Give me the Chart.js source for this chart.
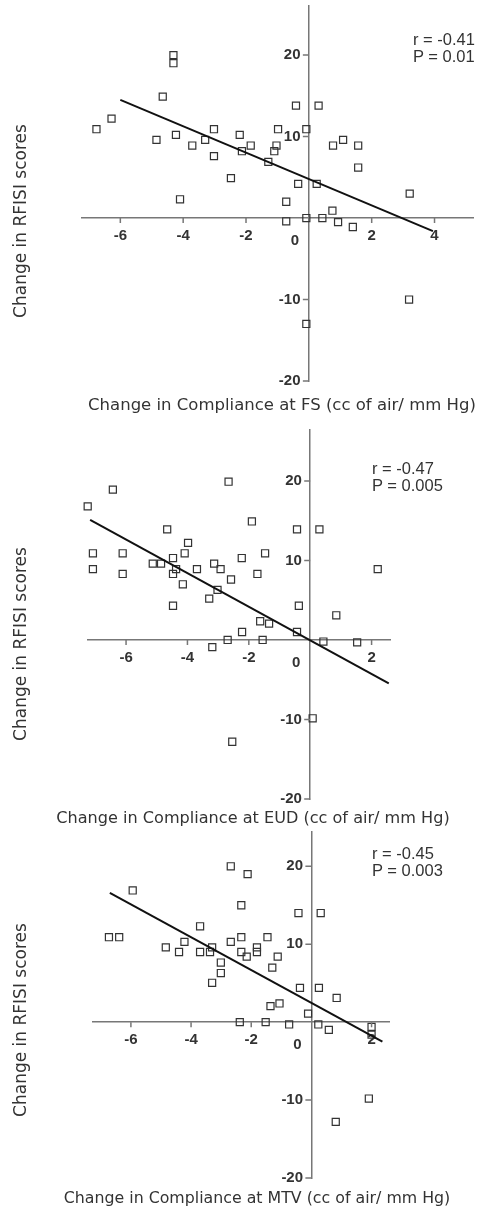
<!DOCTYPE html>
<html>
<head>
<meta charset="utf-8">
<script src="https://cdn.jsdelivr.net/npm/chart.js@4"></script>
<style>
body { margin: 0; background: #fff; }
#page { position: relative; width: 480px; height: 1211px; overflow: hidden; font-family: "DejaVu Sans", sans-serif; color: #333; }
.panel { position: absolute; left: 0; }
.xtitle { position: absolute; white-space: nowrap; font-size: 16.5px; line-height: 18px; transform: translateX(-50%); }
.ytitle { position: absolute; white-space: nowrap; font-size: 17px; line-height: 18px; transform: translate(-50%, -50%) rotate(-90deg); }
.stat { position: absolute; font-family: "Liberation Sans", Arial, sans-serif; font-size: 16.5px; line-height: 17px; white-space: nowrap; }
</style>
</head>
<body>
<div id="page">
  <canvas id="fs" class="panel" width="480" height="400" style="top:0px"></canvas>
  <canvas id="eud" class="panel" width="480" height="410" style="top:400px"></canvas>
  <canvas id="mtv" class="panel" width="480" height="380" style="top:810px"></canvas>

  <div class="ytitle" style="left:20px;top:221px">Change in RFISI scores</div>
  <div class="ytitle" style="left:20px;top:644px">Change in RFISI scores</div>
  <div class="ytitle" style="left:20px;top:1020px">Change in RFISI scores</div>

  <div class="xtitle" style="left:282px;top:396px">Change in Compliance at FS (cc of air/ mm Hg)</div>
  <div class="xtitle" style="left:253px;top:809px;font-size:16.1px">Change in Compliance at EUD (cc of air/ mm Hg)</div>
  <div class="xtitle" style="left:257px;top:1189px;font-size:15.8px">Change in Compliance at MTV (cc of air/ mm Hg)</div>

  <div class="stat" style="left:413px;top:31px">r = -0.41<br>P = 0.01</div>
  <div class="stat" style="left:372px;top:460px">r = -0.47<br>P = 0.005</div>
  <div class="stat" style="left:372px;top:845px">r = -0.45<br>P = 0.003</div>
</div>
<script>
// --- data ---
// FS
var fsX = [-6.76, -6.28, -4.31, -4.31, -4.65, -4.85, -4.23, -3.71, -3.30, -3.02, -3.02, -2.48, -2.20, -2.13, -1.85, -1.29, -1.10, -1.03, -0.98, -0.41, -0.08, 0.31, -0.34, 0.25, 0.77, 1.09, 1.57, 1.57, 3.21, -4.10, -0.72, -0.72, -0.08, 0.43, 0.75, 0.93, 1.40, 3.19, -0.08];
var fsY = [10.9, 12.2, 20.0, 19.0, 14.9, 9.6, 10.2, 8.9, 9.6, 10.9, 7.6, 4.9, 10.2, 8.2, 8.9, 6.9, 8.2, 8.9, 10.9, 13.8, 10.9, 13.8, 4.2, 4.2, 8.9, 9.6, 8.9, 6.2, 3.0, 2.3, 2.0, -0.4, 0, 0, 0.9, -0.5, -1.1, -10.0, -13.0];
var fsLineX = [-6.0, 3.95];
var fsLineY = [14.5, -1.6];

// EUD
var eudX = [-7.25, -6.43, -2.66, -1.90, -4.66, -0.43, 0.30, -3.98, -4.09, -7.08, -6.11, -1.47, -4.47, -2.23, -5.13, -4.86, -3.13, -7.08, -4.37, -3.69, -2.92, 2.20, -6.11, -4.47, -1.72, -2.58, -4.15, -3.02, -3.29, -4.47, -0.37, 0.85, -1.63, -1.34, -2.22, -0.43, -2.69, -1.55, -3.19, 0.43, 1.53, 0.08, -2.54];
var eudY = [16.8, 18.9, 19.9, 14.9, 13.9, 13.9, 13.9, 12.2, 10.9, 10.9, 10.9, 10.9, 10.3, 10.3, 9.6, 9.6, 9.6, 8.9, 8.9, 8.9, 8.9, 8.9, 8.3, 8.3, 8.3, 7.6, 7.0, 6.3, 5.2, 4.3, 4.3, 3.1, 2.35, 2.05, 1.0, 1.0, 0, 0, -0.9, -0.2, -0.3, -9.85, -12.8];
var eudLineX = [-7.17, 2.56];
var eudLineY = [15.1, -5.45];

// MTV
var mtvX = [-5.94, -6.73, -6.39, -2.68, -2.12, -2.33, -0.43, 0.31, -3.70, -2.33, -1.46, -4.84, -4.22, -4.40, -3.70, -3.37, -3.30, -2.68, -2.33, -2.15, -1.81, -1.81, -1.12, -3.01, -1.30, -3.01, -3.30, -0.38, 0.25, 0.84, -1.36, -1.06, -0.11, -2.38, -1.52, -0.74, 0.23, 0.58, 2.0, 2.0, 1.91, 0.81];
var mtvY = [16.9, 10.9, 10.9, 20.0, 19.0, 15.0, 14.0, 14.0, 12.3, 10.9, 10.9, 9.6, 10.3, 9.0, 9.0, 9.0, 9.6, 10.3, 9.0, 8.4, 9.6, 9.0, 8.4, 7.65, 7.0, 6.3, 5.05, 4.4, 4.4, 3.1, 2.05, 2.4, 1.1, 0, 0, -0.3, -0.3, -1.0, -0.6, -1.6, -9.8, -12.8];
var mtvLineX = [-6.7, 2.36];
var mtvLineY = [16.6, -2.5];

// tick labels
var xTicksFS = [-6, -4, -2, 2, 4];
var xTicksOther = [-6, -4, -2, 2];
var yTicks = [-20, -10, 10, 20];

function pairs(xs, ys) {
    return xs.map(function(v, i) {
        return { x: v, y: ys[i] };
    });
}

// small tick marks on the crossing axes + the "0" under the origin
var axisMarks = {
    id: 'axisMarks',
    afterDraw: function(chart) {
        var ctx = chart.ctx;
        var xs = chart.scales.x, ys = chart.scales.y;
        var x0 = xs.getPixelForValue(0);
        var y0 = ys.getPixelForValue(0);
        ctx.save();
        ctx.strokeStyle = '#777';
        ctx.lineWidth = 1.5;
        ctx.beginPath();
        xs.ticks.forEach(function(t) {
            var px = xs.getPixelForValue(t.value);
            ctx.moveTo(px, y0);
            ctx.lineTo(px, y0 + 5);
        });
        ys.ticks.forEach(function(t) {
            var py = ys.getPixelForValue(t.value);
            ctx.moveTo(x0 - 6, py);
            ctx.lineTo(x0, py);
        });
        ctx.stroke();
        ctx.font = 'bold 15px "Liberation Sans"';
        ctx.fillStyle = '#333';
        ctx.textAlign = 'center';
        ctx.textBaseline = 'middle';
        ctx.fillText('0', x0 - 14, y0 + 23);
        ctx.restore();
    }
};

var tickFont = { family: 'Liberation Sans', size: 15, weight: 'bold' };
var axisGrid = { drawOnChartArea: false, drawTicks: false, tickLength: 5 };
var axisBorder = { display: true, color: '#777', width: 1.5 };

function makeChart(id, xs, ys, lx, ly, xRange, yRange, xTicks, pad) {
    var ctx = document.getElementById(id).getContext('2d');
    return new Chart(ctx, {
        type: 'scatter',
        data: {
            datasets: [{
                type: 'line',
                data: pairs(lx, ly),
                borderColor: '#111',
                borderWidth: 2,
                pointRadius: 0,
                fill: false,
                clip: false
            }, {
                data: pairs(xs, ys),
                pointStyle: 'rect',
                pointRadius: 5,
                borderColor: '#333',
                borderWidth: 1.2,
                backgroundColor: 'rgba(255,255,255,0)',
                clip: false
            }]
        },
        options: {
            responsive: false,
            animation: false,
            layout: { padding: pad },
            plugins: { legend: { display: false }, tooltip: { enabled: false } },
            scales: {
                x: {
                    type: 'linear',
                    min: xRange[0],
                    max: xRange[1],
                    position: { y: 0 },
                    afterBuildTicks: function(s) {
                        s.ticks = xTicks.map(function(v) { return { value: v }; });
                    },
                    afterFit: function(s) {
                        s.paddingLeft = 0; s.paddingRight = 0; s.paddingTop = 0; s.paddingBottom = 0;
                    },
                    grid: axisGrid,
                    border: axisBorder,
                    ticks: { font: tickFont, color: '#333', padding: 9, maxRotation: 0, autoSkip: false }
                },
                y: {
                    type: 'linear',
                    min: yRange[0],
                    max: yRange[1],
                    position: { x: 0 },
                    afterBuildTicks: function(s) {
                        s.ticks = yTicks.map(function(v) { return { value: v }; });
                    },
                    afterFit: function(s) {
                        s.paddingLeft = 0; s.paddingRight = 0; s.paddingTop = 0; s.paddingBottom = 0;
                    },
                    grid: axisGrid,
                    border: axisBorder,
                    ticks: {
                        font: tickFont, color: '#333', autoSkip: false,
                        callback: function(v) { return v + '  '; }
                    }
                }
            }
        },
        plugins: [axisMarks]
    });
}

makeChart('fs', fsX, fsY, fsLineX, fsLineY, [-7.22, 5.25], [-20, 26], xTicksFS, { left: 82, right: 5, top: 5, bottom: 19 });
makeChart('eud', eudX, eudY, eudLineX, eudLineY, [-7.24, 2.6], [-20, 26.4], xTicksOther, { left: 88, right: 90, top: 30, bottom: 11 });
makeChart('mtv', mtvX, mtvY, mtvLineX, mtvLineY, [-7.26, 2.58], [-20, 24.4], xTicksOther, { left: 93, right: 91, top: 22, bottom: 12 });
</script>
</body>
</html>
